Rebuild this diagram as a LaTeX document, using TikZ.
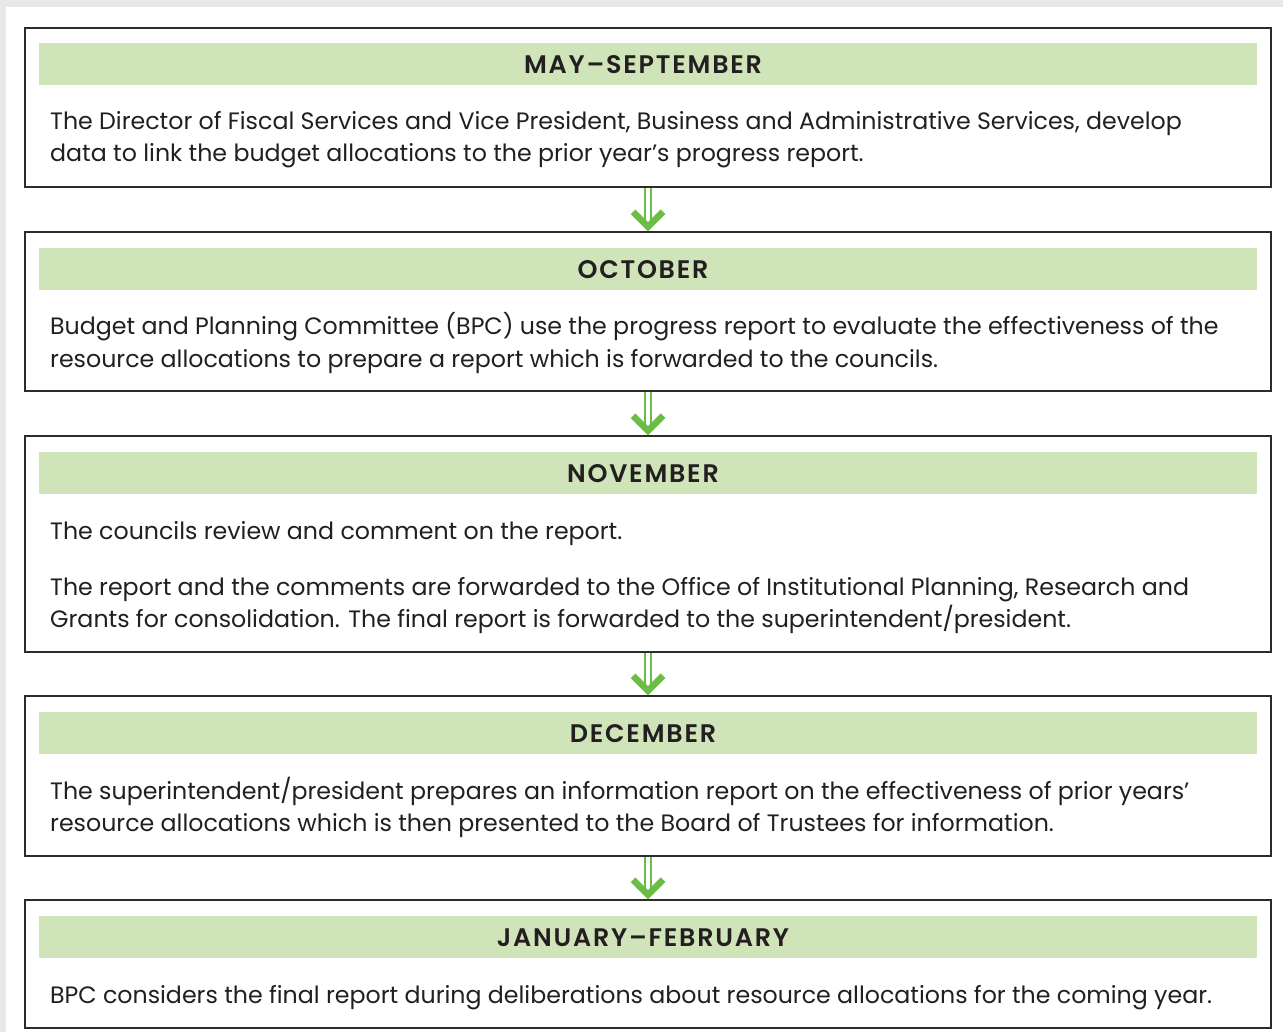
\documentclass[tikz,border=0pt]{standalone}
\usepackage{fontspec}
\setmainfont{Poppins}
\newfontfamily\headfont[LetterSpace=7]{Poppins SemiBold}
\definecolor{bandgreen}{HTML}{D0E4B9}
\definecolor{arrowgreen}{HTML}{6CBD45}
\definecolor{inkgrey}{HTML}{231F20}
\definecolor{framegrey}{HTML}{2B2B2B}
\definecolor{pagegrey}{HTML}{E8E8E8}
\begin{document}
\begin{tikzpicture}[x=1pt,y=-1pt,
  stagebox/.style={draw=framegrey, line width=1.3pt, minimum width=1246pt, inner sep=0pt},
  band/.style={fill=bandgreen, minimum width=1218pt, minimum height=42pt, inner sep=0pt},
  headtext/.style={font=\headfont\fontsize{25.4}{30}\selectfont, text=inkgrey, inner sep=0pt},
  bodytext/.style={font=\fontsize{23.7}{32}\selectfont, text=inkgrey, anchor=base west, inner sep=0pt},
  shaft/.style={draw=arrowgreen, line width=2.5pt, double=white, double distance=3.5pt},
  chevron/.style={draw=arrowgreen, line width=6.5pt, line join=miter, miter limit=10}
]
\useasboundingbox (0,0) rectangle (1283,1032);
\fill[pagegrey] (0,0) rectangle (1283,1032);
\fill[white] (6,7) rectangle (1283,1032);

% boxes
\node[stagebox, minimum height=159pt] (box1) at (648,107.5) {};
\node[stagebox, minimum height=159pt] (box2) at (648,311.5) {};
\node[stagebox, minimum height=216pt] (box3) at (648,544) {};
\node[stagebox, minimum height=160pt] (box4) at (648,776) {};
\node[stagebox, minimum height=128pt] (box5) at (648,964) {};

% bands
\node[band] (band1) at (648,64) {};
\node[band] (band2) at (648,269) {};
\node[band] (band3) at (648,473) {};
\node[band] (band4) at (648,733) {};
\node[band] (band5) at (648,937) {};

% headings
\node[headtext] (head1) at (643,64.5) {MAY–SEPTEMBER};
\node[headtext] (head2) at (643,269.5) {OCTOBER};
\node[headtext] (head3) at (643,473.5) {NOVEMBER};
\node[headtext] (head4) at (643,733.5) {DECEMBER};
\node[headtext] (head5) at (643,937.5) {JANUARY–FEBRUARY};

% body text
\node[bodytext] (t1a) at (50,130) {The Director of Fiscal Services and Vice President, Business and Administrative Services, develop};
\node[bodytext] (t1b) at (50,162) {data to link the budget allocations to the prior year’s progress report.};
\node[bodytext] (t2a) at (50,335) {Budget and Planning Committee (BPC) use the progress report to evaluate the effectiveness of the};
\node[bodytext] (t2b) at (50,367) {resource allocations to prepare a report which is forwarded to the councils.};
\node[bodytext] (t3a) at (50,539) {The councils review and comment on the report.};
\node[bodytext] (t3b) at (50,595) {The report and the comments are forwarded to the Office of Institutional Planning, Research and};
\node[bodytext] (t3c) at (50,627) {Grants for consolidation. The final report is forwarded to the superintendent/president.};
\node[bodytext] (t4a) at (50,799) {The superintendent/president prepares an information report on the effectiveness of prior years’};
\node[bodytext] (t4b) at (50,831) {resource allocations which is then presented to the Board of Trustees for information.};
\node[bodytext] (t5a) at (50,1003) {BPC considers the final report during deliberations about resource allocations for the coming year.};

% arrows
\foreach \a/\b in {box1/box2, box2/box3, box3/box4, box4/box5}{
  \draw[shaft] (\a.south) -- ([yshift=10pt]\b.north);
  \draw[chevron] ([xshift=-15pt,yshift=19.6pt]\b.north) -- ([yshift=4.6pt]\b.north) -- ([xshift=15pt,yshift=19.6pt]\b.north);
}
\end{tikzpicture}
\end{document}
